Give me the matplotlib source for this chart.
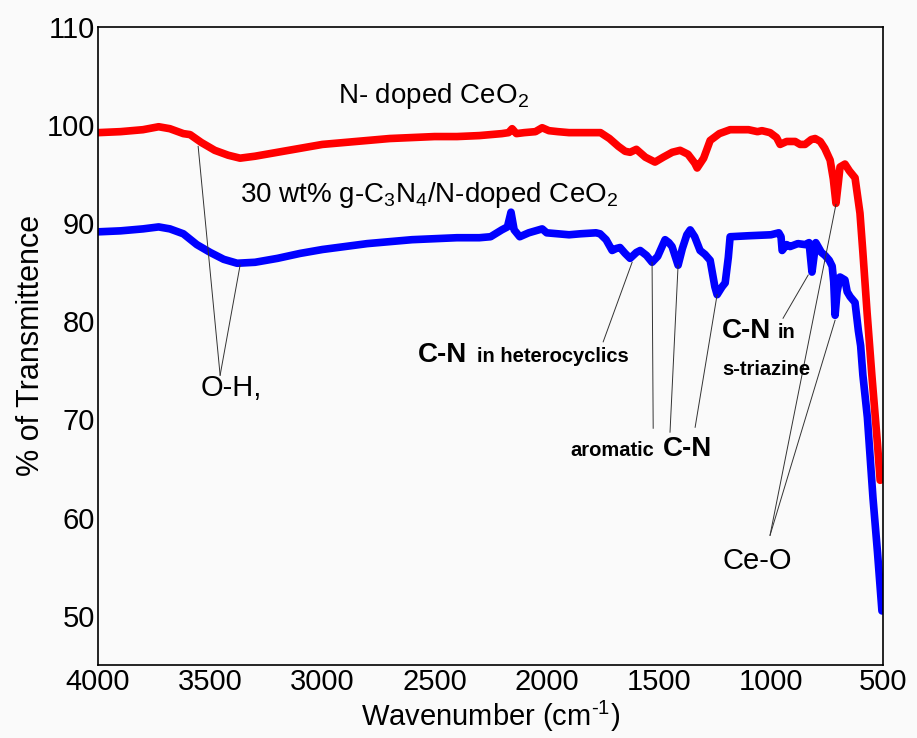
import numpy as np
import matplotlib
matplotlib.use('Agg')
import matplotlib.pyplot as plt

plt.rcParams['font.family'] = ['Liberation Sans', 'DejaVu Sans']
plt.rcParams['mathtext.fontset'] = 'custom'
plt.rcParams['mathtext.rm'] = 'Liberation Sans'
plt.rcParams['mathtext.it'] = 'Liberation Sans:italic'
plt.rcParams['mathtext.bf'] = 'Liberation Sans:bold'

# N-doped CeO2 (red)
wn_red = [4000, 3900, 3800, 3730, 3680, 3620, 3590, 3540, 3480, 3420, 3367,
          3300, 3200, 3100, 3000, 2900, 2800, 2700, 2600, 2500, 2400, 2300,
          2200, 2170, 2154, 2135, 2100, 2050, 2020, 1990, 1950, 1900, 1800,
          1760, 1720, 1680, 1650, 1628, 1600, 1560, 1517, 1480, 1440, 1405,
          1370, 1340, 1329, 1300, 1271, 1230, 1182, 1100, 1060, 1040, 1004,
          975, 959, 930, 892, 870, 848, 820, 803, 780, 760, 736, 722, 710,
          700, 692, 670, 650, 625, 603, 590, 571, 550, 536, 525, 513]
t_red = [99.2, 99.3, 99.5, 99.8, 99.6, 99.1, 99.0, 98.2, 97.4, 96.9, 96.6,
         96.8, 97.2, 97.6, 98.0, 98.2, 98.4, 98.6, 98.7, 98.8, 98.8, 98.9,
         99.1, 99.2, 99.6, 99.1, 99.2, 99.3, 99.7, 99.4, 99.3, 99.2, 99.2,
         99.2, 98.6, 97.8, 97.3, 97.2, 97.5, 96.7, 96.2, 96.7, 97.2, 97.4,
         97.0, 96.1, 95.6, 96.6, 98.4, 99.1, 99.5, 99.5, 99.3, 99.4, 99.2,
         98.7, 98.0, 98.3, 98.3, 98.0, 98.0, 98.5, 98.6, 98.3, 97.6, 96.4,
         94.5, 92.0, 94.0, 95.7, 96.0, 95.3, 94.6, 91.0, 87.0, 80.8, 74.5,
         70.6, 67.5, 63.8]

# 30 wt% g-C3N4/N-doped CeO2 (blue)
wn_blue = [4000, 3900, 3800, 3730, 3680, 3620, 3560, 3500, 3440, 3380, 3300,
           3200, 3100, 3000, 2900, 2800, 2700, 2600, 2500, 2400, 2300, 2250,
           2200, 2175, 2159, 2145, 2120, 2080, 2050, 2020, 2000, 1950, 1900,
           1850, 1780, 1762, 1735, 1708, 1690, 1673, 1650, 1628, 1600, 1583,
           1555, 1530, 1505, 1472, 1455, 1441, 1414, 1395, 1375, 1360, 1340,
           1316, 1294, 1271, 1250, 1240, 1218, 1204, 1190, 1182, 1100, 1000,
           965, 955, 950, 930, 915, 880, 848, 830, 817, 800, 790, 775, 759,
           740, 727, 720, 714, 705, 692, 670, 660, 647, 625, 610, 600, 590,
           570, 545, 525, 505]
t_blue = [89.1, 89.2, 89.4, 89.6, 89.4, 88.9, 87.8, 87.0, 86.3, 85.9, 86.0,
          86.4, 86.9, 87.3, 87.6, 87.9, 88.1, 88.3, 88.4, 88.5, 88.5, 88.6,
          89.3, 89.6, 91.1, 89.3, 88.6, 89.0, 89.2, 89.4, 89.0, 88.9, 88.8,
          88.9, 89.0, 88.9, 88.3, 87.2, 87.4, 87.5, 86.9, 86.4, 87.0, 87.2,
          86.7, 86.0, 86.6, 88.3, 88.0, 87.6, 85.7, 87.4, 88.8, 89.3, 88.6,
          87.2, 86.8, 86.2, 83.5, 82.7, 83.5, 83.9, 86.5, 88.6, 88.7, 88.8,
          89.0, 88.6, 87.2, 87.8, 87.6, 87.9, 87.8, 88.0, 85.0, 88.0, 87.6,
          87.0, 86.7, 86.2, 85.6, 84.0, 80.6, 83.0, 84.5, 84.2, 83.0, 82.5,
          81.9, 79.0, 77.5, 74.5, 70.2, 62.0, 56.5, 50.5]

# band assignments: (label point, list of peak points)
oh_label = (3407, 73.2)
oh_tip = (3456, 74.5)
oh_peaks = [(3554, 97.8), (3367, 85.7)]
het_tip = (1748, 77.9)
het_peaks = [(1619, 86.0)]
arom_tips = [(1525, 69.1), (1450, 68.7), (1338, 69.2)]
arom_peaks = [(1530, 86.0), (1414, 85.7), (1240, 82.7)]
tri_tip = (946, 80.3)
tri_peaks = [(834, 84.7)]
ceo_label = (1062, 55.6)
ceo_tip = (1004, 58.2)
ceo_peaks = [(710, 91.9), (714, 80.1)]

fig = plt.figure(figsize=(9.17, 7.38), dpi=100, facecolor='#fafafa')
ax = fig.add_axes([0.107, 0.099, 0.856, 0.865])
ax.set_facecolor('#fafafa')

ax.plot(wn_red, t_red, color='#ff0000', lw=5.5, solid_capstyle='round')
ax.plot(wn_blue, t_blue, color='#0000ff', lw=5.5, solid_capstyle='round')

ax.set_xlim(4000, 500)
ax.set_ylim(45, 110)
ax.set_xticks(np.arange(4000, 499, -500))
ax.set_yticks(np.arange(50, 111, 10))
ax.tick_params(length=0, labelsize=21, pad=2)
for s in ax.spines.values():
    s.set_linewidth(1.2)

ax.set_xlabel(r'Wavenumber (cm$^{\text{-1}}$)', fontsize=21, labelpad=2)
ax.set_ylabel('% of Transmittence', fontsize=22, labelpad=0.5)

# connector lines
def connect(tip, peaks):
    for p in peaks:
        ax.plot([tip[0], p[0]], [tip[1], p[1]], color='#333333', lw=0.7)

connect(oh_tip, oh_peaks)
connect(het_tip, het_peaks)
for a, b in zip(arom_tips, arom_peaks):
    connect(a, [b])
connect(tri_tip, tri_peaks)
connect(ceo_tip, ceo_peaks)

ax.text(2506, 102.2, 'N- doped CeO$_2$', fontsize=20, ha='center',
        va='baseline')
ax.text(3367, 92.1, '30 wt% g-C$_3$N$_4$/N-doped CeO$_2$', fontsize=20,
        ha='left', va='baseline')
ax.text(oh_label[0], oh_label[1], 'O-H,', fontsize=21, ha='center',
        va='center')
ax.text(ceo_label[0], ceo_label[1], 'Ce-O', fontsize=21, ha='center',
        va='center')

ax.text(2573, 75.8, 'C-N', fontsize=20, fontweight='bold', va='baseline')
ax.text(2310, 75.8, 'in heterocyclics', fontsize=14.5, fontweight='bold',
        va='baseline')
ax.text(1896, 66.3, 'aromatic', fontsize=14.5, fontweight='bold',
        va='baseline')
ax.text(1481, 66.3, 'C-N', fontsize=20, fontweight='bold', va='baseline')
ax.text(1218, 78.3, 'C-N', fontsize=20, fontweight='bold', va='baseline')
ax.text(968, 78.3, 'in', fontsize=14.5, fontweight='bold', va='baseline')
ax.text(1218, 74.5, 's-triazine', fontsize=14.5, fontweight='bold',
        va='baseline')

fig.savefig('out.png', dpi=100, facecolor=fig.get_facecolor())
